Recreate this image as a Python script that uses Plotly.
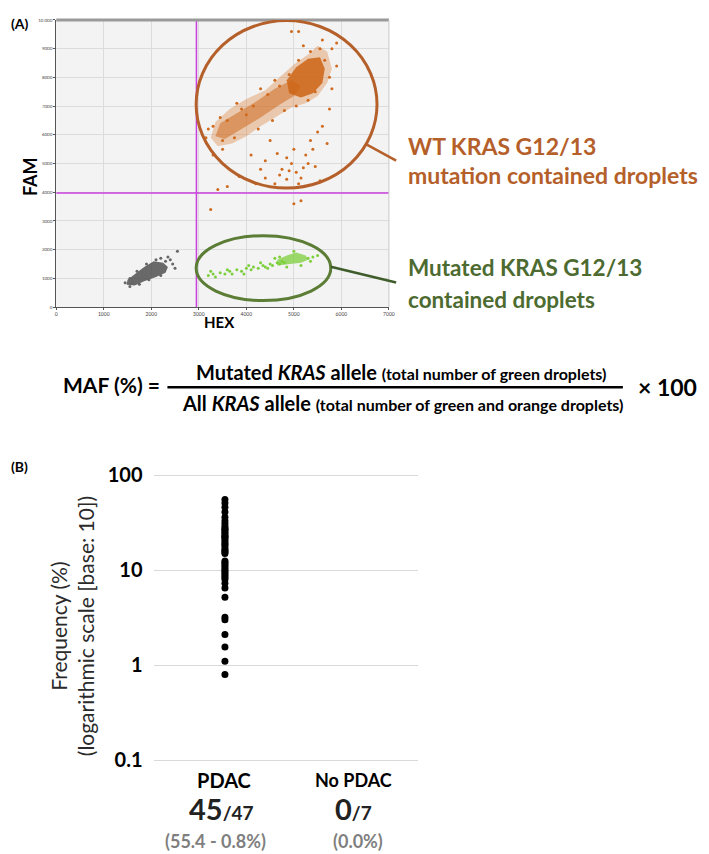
import plotly.graph_objects as go

# ---------------- Panel A data (ddPCR droplet plot) ----------------
x_ticks_a = [0, 1000, 2000, 3000, 4000, 5000, 6000, 7000]
x_ticktext_a = ["0", "1000", "2000", "3000", "4000", "5000", "6000", "7000"]
y_ticks_a = [0, 1000, 2000, 3000, 4000, 5000, 6000, 7000, 8000, 9000, 10000]
y_ticktext_a = ["0", "1000", "2000", "3000", "4000", "5000", "6000", "7000", "8000", "9000", "10 000"]

hex_threshold = 2950
fam_threshold = 3970

# WT (orange) cloud outline: sparse band, medium band and dense core
orange_band_x = [3250, 3400, 3700, 4000, 4300, 4650, 4950, 5250, 5500, 5700, 5800, 5700, 5500, 5300, 5000, 4700, 4400, 4000, 3650, 3350]
orange_band_y = [5900, 5600, 5700, 5950, 6300, 6650, 6950, 7100, 7350, 7800, 8300, 8900, 9100, 8800, 8450, 8000, 7550, 7250, 6900, 6450]
orange_mid_x = [3350, 3550, 3900, 4300, 4700, 5000, 5150, 4950, 4600, 4200, 3800, 3450]
orange_mid_y = [5950, 5850, 6200, 6600, 7050, 7350, 7700, 7900, 7600, 7150, 6750, 6400]
orange_core_x = [4900, 5150, 5400, 5600, 5650, 5550, 5300, 5050, 4850]
orange_core_y = [7450, 7300, 7450, 7800, 8300, 8700, 8650, 8350, 7900]
orange_out_x = [4850, 4950, 5050, 5150, 4700, 5250, 5350, 5500, 5100, 4600, 4400, 4200, 3600, 3400, 3250, 5000,
                5150, 4400, 4750, 4900, 5450, 5550, 5700, 5300, 5000, 4500, 4100, 5800, 5600, 5100, 5900, 4000,
                4850, 5200, 4650, 5400, 4300, 3850, 5600, 5750, 3300, 3500,
                3300, 3450, 3600, 3500, 3750, 3900, 4150, 4250, 4450, 4550, 4700, 4800, 4900, 5050, 5100,
                5300, 5350, 5450, 5550, 5650, 5750, 5800, 5200, 4600, 4300, 3800, 3150, 3200, 5900, 4950]
orange_out_y = [5200, 5000, 4700, 4500, 4600, 5300, 5800, 6100, 4300, 4300, 4500, 4300, 4200, 4100, 3400, 3600,
                3700, 5100, 4800, 4750, 4900, 4400, 5700, 5000, 5500, 5800, 5300, 9000, 9300, 9600, 8400, 6700,
                4450, 4850, 5350, 5500, 4800, 4550, 6300, 6900, 5300, 5500,
                6300, 6600, 6500, 5800, 5900, 6900, 7000, 6200, 7400, 6500, 7700, 6850, 8100, 7000, 8600,
                7200, 8900, 7500, 9000, 8600, 8000, 7600, 9100, 7900, 7600, 7100, 5900, 6200, 9200, 9600]

# Negative (gray) cloud
gray_x = [1480, 1650, 1850, 2100, 2300, 2350, 2250, 2050, 1850, 1650, 1500]
gray_y = [780, 750, 900, 1050, 1200, 1400, 1550, 1600, 1400, 1150, 950]
gray_out_x = [2400, 2550, 2450, 1450, 2200, 2350, 1550, 2500, 1550, 1700, 1900, 2100, 2300, 2200, 1950, 1750, 1600]
gray_out_y = [1650, 1950, 1500, 850, 1700, 1750, 720, 1350, 1000, 1250, 1500, 1650, 1600, 1100, 950, 800, 820]

# Mutant (green) cloud
green_core_x = [4650, 4900, 5150, 5300, 5250, 5050, 4850, 4650]
green_core_y = [1450, 1500, 1550, 1650, 1800, 1900, 1800, 1650]
green_out_x = [3200, 3300, 3350, 3450, 3550, 3650, 3700, 3800, 3900, 4000, 4100, 4150, 4250, 4350, 4400,
               4500, 4550, 4650, 4700, 4750, 4800, 5300, 5400, 5500, 3250, 3600, 4050, 4300, 3950, 4450,
               4600, 4700, 5000, 5150, 5350, 4850]
green_out_y = [1100, 1150, 1050, 1200, 1150, 1250, 1150, 1300, 1250, 1350, 1300, 1400, 1350, 1450, 1400,
               1500, 1450, 1550, 1500, 1600, 1550, 1700, 1750, 1800, 1250, 1300, 1450, 1550, 1150, 1350,
               1700, 1750, 1950, 1450, 1600, 1400]

# ---------------- Panel B data ----------------
categories = ["PDAC", "No PDAC"]
detected = [45, 0]
totals = [47, 7]
range_labels = ["(55.4 - 0.8%)", "(0.0%)"]
pdac_maf = [55.4, 51, 46, 41, 36, 33, 31, 29, 27.5, 27, 26, 25, 24, 23, 22.5, 22, 21, 20, 19, 18.5,
            17.5, 16.5, 16, 15.5, 15, 12.5, 12, 11.5, 11, 10.5, 10, 9.6, 9.2, 8.8, 8.4, 8.0, 7.3, 6.5,
            5.2, 3.2, 3.0, 2.1, 1.55, 1.1, 0.8]
y_tickvals_b = [0.1, 1, 10, 100]
y_ticktext_b = ["0.1", "1", "10", "100"]

W, H = 709, 854
FONT = "Lato, 'Open Sans', sans-serif"
ORANGE = "#cf6a1e"
ORANGE_LINE = "#b5602a"
GREEN_PT = "#7dcf3c"
GREEN_LINE = "#5b7d35"
GREEN_TXT = "#4d6b30"


def px_x(p):
    return p / W


def px_y(p):
    return 1 - p / H


fig = go.Figure()

# Panel A traces
fig.add_trace(go.Scatter(x=orange_band_x, y=orange_band_y, fill="toself", mode="lines",
                         line=dict(width=0), fillcolor="rgba(214,120,45,0.35)", xaxis="x", yaxis="y",
                         hoverinfo="skip", showlegend=False))
fig.add_trace(go.Scatter(x=orange_mid_x, y=orange_mid_y, fill="toself", mode="lines",
                         line=dict(width=0), fillcolor="rgba(208,108,32,0.55)", xaxis="x", yaxis="y",
                         hoverinfo="skip", showlegend=False))
fig.add_trace(go.Scatter(x=orange_core_x, y=orange_core_y, fill="toself", mode="lines",
                         line=dict(width=0), fillcolor="rgba(205,100,20,0.85)", xaxis="x", yaxis="y",
                         hoverinfo="skip", showlegend=False))
fig.add_trace(go.Scatter(x=orange_out_x, y=orange_out_y, mode="markers",
                         marker=dict(size=3, color=ORANGE), xaxis="x", yaxis="y", showlegend=False))
fig.add_trace(go.Scatter(x=gray_x, y=gray_y, fill="toself", mode="lines",
                         line=dict(width=0), fillcolor="rgba(80,80,80,0.85)", xaxis="x", yaxis="y",
                         hoverinfo="skip", showlegend=False))
fig.add_trace(go.Scatter(x=gray_out_x, y=gray_out_y, mode="markers",
                         marker=dict(size=3, color="#666"), xaxis="x", yaxis="y", showlegend=False))
fig.add_trace(go.Scatter(x=green_core_x, y=green_core_y, fill="toself", mode="lines",
                         line=dict(width=0), fillcolor="rgba(125,207,60,0.75)", xaxis="x", yaxis="y",
                         hoverinfo="skip", showlegend=False))
fig.add_trace(go.Scatter(x=green_out_x, y=green_out_y, mode="markers",
                         marker=dict(size=3, color=GREEN_PT), xaxis="x", yaxis="y", showlegend=False))

# Panel B trace
fig.add_trace(go.Scatter(x=[0] * len(pdac_maf), y=pdac_maf, mode="markers",
                         marker=dict(size=7, color="black"), xaxis="x2", yaxis="y2", showlegend=False))

shapes = []
# light gray plot area background for panel A
shapes.append(dict(type="rect", xref="x domain", yref="y domain", x0=0, x1=1, y0=0, y1=1,
                   fillcolor="#f3f3f3", line=dict(width=0), layer="below"))
# thresholds
shapes.append(dict(type="line", xref="x", yref="y", x0=0, x1=7000, y0=fam_threshold, y1=fam_threshold,
                   line=dict(color="#c941dd", width=1.5)))
shapes.append(dict(type="line", xref="x", yref="y", x0=hex_threshold, x1=hex_threshold, y0=0, y1=10000,
                   line=dict(color="#c941dd", width=1.5)))
# top border of panel A
shapes.append(dict(type="line", xref="x domain", yref="y domain", x0=0, x1=1, y0=1, y1=1,
                   line=dict(color="#9a9a9a", width=3)))
shapes.append(dict(type="line", xref="x domain", yref="y domain", x0=1, x1=1, y0=0, y1=1,
                   line=dict(color="#c8c8c8", width=1)))
# ellipses
shapes.append(dict(type="circle", xref="x", yref="y", x0=2944, x1=6750, y0=4144, y1=9976,
                   line=dict(color=ORANGE_LINE, width=3)))
shapes.append(dict(type="circle", xref="x", yref="y", x0=2944, x1=5777, y0=229, y1=2490,
                   line=dict(color=GREEN_LINE, width=3)))
# connectors (paper coords)
shapes.append(dict(type="line", xref="paper", yref="paper", x0=px_x(360), y0=px_y(130), x1=px_x(391), y1=px_y(147),
                   line=dict(color=ORANGE_LINE, width=2.5)))
shapes.append(dict(type="line", xref="paper", yref="paper", x0=px_x(325), y0=px_y(255), x1=px_x(391), y1=px_y(271),
                   line=dict(color="#3f5c2b", width=2.5)))
# fraction line
shapes.append(dict(type="line", xref="paper", yref="paper", x0=px_x(160), y0=px_y(377.5), x1=px_x(620), y1=px_y(377.5),
                   line=dict(color="black", width=2.5)))

annotations = []


def ann(text, x, y, size, color="black", xanchor="center", yanchor="middle", angle=0, bold=False):
    t = f"<b>{text}</b>" if bold else text
    annotations.append(dict(text=t, x=px_x(x), y=px_y(y), xref="paper", yref="paper", showarrow=False,
                            xanchor=xanchor, yanchor=yanchor, textangle=angle,
                            font=dict(family=FONT, size=size, color=color)))


ann("(A)", 0, 8, 14, xanchor="left", bold=True)
ann("FAM", 22, 163, 18, angle=-90, bold=True)
ann("HEX", 213, 311, 15, bold=True)
ann("WT KRAS G12/13", 401, 132, 23, color=ORANGE_LINE, xanchor="left", bold=True)
ann("mutation contained droplets", 401, 162, 23, color=ORANGE_LINE, xanchor="left", bold=True)
ann("Mutated KRAS G12/13", 401, 256, 22.5, color=GREEN_TXT, xanchor="left", bold=True)
ann("contained droplets", 401, 288, 22.5, color=GREEN_TXT, xanchor="left", bold=True)

# formula
ann("MAF (%) =", 155, 375, 21, xanchor="right", bold=True)
ann("Mutated <i>KRAS</i> allele <span style='font-size:16px'>(total number of green droplets)</span>",
    396, 362, 20, bold=True)
ann("All <i>KRAS</i> allele <span style='font-size:16px'>(total number of green and orange droplets)</span>",
    397, 393, 20, bold=True)
ann("× 100", 665, 377, 23, bold=True)

# panel B
ann("(B)", 0, 458, 14, xanchor="left", bold=True)
ann("Frequency (%)<br>(logarithmic scale [base: 10])", 63, 620, 21, color="#2a2a2a", angle=-90)
cat_px = [217, 348]
count_px = [215, 348]
range_px = [209, 352]
cat_sizes = [20, 18]
for i, c in enumerate(categories):
    ann(c, cat_px[i], 777, cat_sizes[i], bold=True)
    ann(f"<span style='font-size:29px'>{detected[i]}</span>/{totals[i]}", count_px[i], 806, 19,
        color="#222", bold=True)
    ann(range_labels[i], range_px[i], 839, 18, color="#7f7f7f", bold=True)

fig.update_layout(
    width=W, height=H, autosize=False,
    margin=dict(l=0, r=0, t=0, b=0),
    paper_bgcolor="white", plot_bgcolor="white",
    showlegend=False,
    shapes=shapes, annotations=annotations,
    xaxis=dict(domain=[px_x(47.7), px_x(383.7)], range=[0, 7000], tickvals=x_ticks_a, ticktext=x_ticktext_a,
               showgrid=True, gridcolor="#dcdcdc", gridwidth=1, zeroline=False,
               showline=True, linecolor="#555", linewidth=1, ticks="outside", ticklen=2, tickcolor="#555",
               tickfont=dict(size=5, color="#444", family=FONT), anchor="y", fixedrange=True),
    yaxis=dict(domain=[px_y(296), px_y(4)], range=[0, 10000], tickvals=y_ticks_a, ticktext=y_ticktext_a,
               showgrid=True, gridcolor="#dcdcdc", gridwidth=1, zeroline=False,
               showline=True, linecolor="#555", linewidth=1, ticks="outside", ticklen=2, tickcolor="#555",
               tickfont=dict(size=4.5, color="#444", family=FONT), anchor="x", fixedrange=True),
    xaxis2=dict(domain=[px_x(146), px_x(413)], range=[-0.54, 1.46], showgrid=False, zeroline=False,
                showticklabels=False, showline=False, anchor="y2", fixedrange=True),
    yaxis2=dict(domain=[px_y(761.5), px_y(461.9)], type="log", range=[-1.05, 2.05],
                tickvals=y_tickvals_b, ticktext=y_ticktext_b, showgrid=True, gridcolor="#d9d9d9", gridwidth=1,
                zeroline=False, showline=False, ticks="", ticklabelstandoff=10,
                tickfont=dict(size=20, color="black", family=FONT, weight="bold"),
                anchor="x2", fixedrange=True),
)

fig.write_html("out.html")
